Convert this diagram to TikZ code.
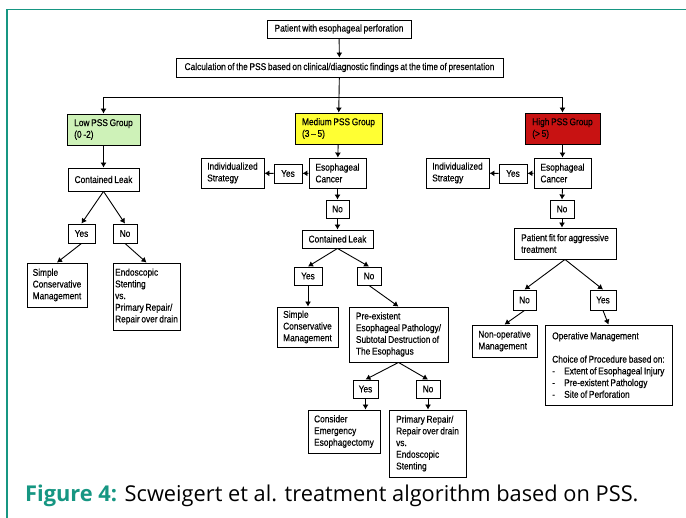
\documentclass[tikz,border=0pt]{standalone}
\usepackage{fontspec}
\setmainfont{Liberation Sans}
\newfontfamily\flowfont[FakeStretch=0.85, FakeBold=0.3, WordSpace=0.75]{Liberation Sans}
\newfontfamily\capfont{Open Sans}
\usetikzlibrary{arrows.meta}

\definecolor{lowgreen}{RGB}{206,242,184}
\definecolor{medyellow}{RGB}{255,255,51}
\definecolor{highred}{RGB}{200,18,18}
\definecolor{frameteal}{RGB}{22,150,130}

\tikzset{
  box/.style={draw, line width=0.9pt, fill=white, align=left, inner xsep=2pt,
    inner ysep=1pt, font=\flowfont\fontsize{9.8}{11.7}\selectfont},
  ans/.style={draw, line width=0.9pt, fill=white, align=center, inner sep=0pt,
    font=\flowfont\fontsize{9.8}{11.7}\selectfont},
  arr/.style={line width=0.9pt, -{Latex[length=5pt,width=6pt]}},
  link/.style={line width=0.9pt}
}

\begin{document}
\begin{tikzpicture}[x=1pt, y=-1pt]
\useasboundingbox (0,0) rectangle (686,518);
% frame of the figure
\draw[frameteal, line width=1.5pt] (7,518) -- (7,9.5) -- (686,9.5);

% start
\node[box, align=center, minimum width=144pt, minimum height=18pt] (patient) at (339,29)
    {Patient with esophageal perforation};
\node[box, align=center, minimum width=327pt, minimum height=19pt] (calc) at (339.5,67.5)
    {Calculation of the PSS based on clinical/diagnostic findings at the time of presentation};
\coordinate (split) at (339,97);

% PSS groups
\node[box, fill=lowgreen, minimum width=73pt, minimum height=31pt] (low) at (103.5,129.5)
    {Low PSS Group\\(0 -2)};
\node[box, fill=medyellow, minimum width=87pt, minimum height=31pt] (med) at (338.5,128.5)
    {Medium PSS Group\\(3 – 5)};
\node[box, fill=highred, minimum width=75pt, minimum height=31pt] (high) at (562.5,128.5)
    {High PSS Group\\(> 5)};

% low group
\node[box, minimum width=71pt, minimum height=23pt] (lowleak) at (103.5,179.5) {Contained Leak};
\node[ans, minimum width=27pt, minimum height=19pt] (lowyes) at (81.5,233.5) {Yes};
\node[ans, minimum width=24pt, minimum height=19pt] (lowno) at (125,233.5) {No};
\node[box, minimum width=60pt, minimum height=44pt] (lowsimple) at (57,285)
    {Simple\\Conservative\\Management};
\node[box, minimum width=67pt, minimum height=67pt] (lowendo) at (146.5,296.5)
    {Endoscopic\\Stenting\\vs.\\Primary Repair/\\Repair over drain};

% medium group
\node[box, minimum width=63pt, minimum height=30pt] (medind) at (232.5,173)
    {Individualized\\Strategy};
\node[ans, minimum width=28pt, minimum height=19pt] (medyes) at (288,173.5) {Yes};
\node[box, minimum width=57pt, minimum height=30pt] (medcan) at (337.5,173)
    {Esophageal\\Cancer};
\node[ans, minimum width=23pt, minimum height=18pt] (medno) at (337.5,209) {No};
\node[box, minimum width=71pt, minimum height=18pt] (medleak) at (337.5,239) {Contained Leak};
\node[ans, minimum width=28pt, minimum height=18pt] (leakyes) at (308,276) {Yes};
\node[ans, minimum width=24pt, minimum height=18pt] (leakno) at (369,276) {No};
\node[box, minimum width=61pt, minimum height=40pt] (medsimple) at (307.5,327)
    {Simple\\Conservative\\Management};
\node[box, minimum width=99pt, minimum height=55pt] (medpre) at (398.5,334.5)
    {Pre-existent\\Esophageal Pathology/\\Subtotal Destruction of\\The Esophagus};
\node[ans, minimum width=25pt, minimum height=18pt] (preyes) at (365.5,389) {Yes};
\node[ans, minimum width=24pt, minimum height=18pt] (preno) at (428,389) {No};
\node[box, minimum width=72pt, minimum height=43pt] (medcons) at (344,431.5)
    {Consider\\Emergency\\Esophagectomy};
\node[box, minimum width=77pt, minimum height=67pt] (medprim) at (427.5,443.5)
    {Primary Repair/\\Repair over drain\\vs.\\Endoscopic\\Stenting};

% high group
\node[box, minimum width=63pt, minimum height=30pt] (highind) at (457.5,173)
    {Individualized\\Strategy};
\node[ans, minimum width=28pt, minimum height=19pt] (highyes) at (513,173.5) {Yes};
\node[box, minimum width=57pt, minimum height=30pt] (highcan) at (562.5,173)
    {Esophageal\\Cancer};
\node[ans, minimum width=24pt, minimum height=18pt] (highno) at (562,209) {No};
\node[box, minimum width=102pt, minimum height=31pt] (fit) at (565,243.5)
    {Patient fit for aggressive\\treatment};
\node[ans, minimum width=23pt, minimum height=20pt] (fitno) at (524.5,300) {No};
\node[ans, minimum width=26pt, minimum height=20pt] (fityes) at (603,300) {Yes};
\node[box, minimum width=65pt, minimum height=32pt] (nonop) at (504.5,341)
    {Non-operative\\Management};
\node[box, minimum width=127pt, minimum height=80pt] (oper) at (608.5,365)
    {Operative Management\\[11.7pt]
     Choice of Procedure based on:\\
     \makebox[12pt][l]{-}Extent of Esophageal Injury\\
     \makebox[12pt][l]{-}Pre-existent Pathology\\
     \makebox[12pt][l]{-}Site of Perforation};

% connectors
\draw[arr] (patient) -- (calc);
\draw[link] (calc) -- (split);
\draw[arr] (split) -- (med);
\draw[arr] (split) -| (low);
\draw[arr] (split) -| (high);

\draw[arr] (low) -- (lowleak);
\draw[arr] (lowleak.south) -- (lowyes.north);
\draw[arr] (lowleak.south) -- (lowno.north);
\draw[arr] (lowyes.south) -- (lowsimple.north);
\draw[arr] (lowno.south) -- (lowendo.north);

\draw[arr] (med) -- (medcan);
\draw[arr] (medcan) -- (medyes);
\draw[arr] (medyes) -- (medind);
\draw[arr] (medcan) -- (medno);
\draw[arr] (medno) -- (medleak);
\draw[arr] (medleak.south) -- (leakyes.north);
\draw[arr] (medleak.south) -- (leakno.north);
\draw[arr] (leakyes.south) -- (leakyes.south |- medsimple.north);
\draw[arr] (leakno.south) -- (medpre.north);
\draw[arr] (medpre.south) -- (preyes.north);
\draw[arr] (medpre.south) -- (preno.north);
\draw[arr] (preyes.south) -- (preyes.south |- medcons.north);
\draw[arr] (preno.south) -- (preno.south |- medprim.north);

\draw[arr] (high) -- (highcan);
\draw[arr] (highcan) -- (highyes);
\draw[arr] (highyes) -- (highind);
\draw[arr] (highcan.south) -- (highno.north);
\draw[arr] (highno.south) -- (highno.south |- fit.north);
\draw[arr] (fit.south) -- (fitno.north);
\draw[arr] (fit.south) -- (fityes.north);
\draw[arr] (fitno.south) -- (nonop.north);
\draw[arr] (fityes.south) -- (oper.north);

% caption
\node[anchor=base west, inner sep=0pt, font=\capfont\fontsize{21.8}{26}\selectfont] (caption) at (25,502)
    {\textcolor{frameteal}{\bfseries Figure 4:} Scweigert et al. treatment algorithm based on PSS.};
\end{tikzpicture}
\end{document}
